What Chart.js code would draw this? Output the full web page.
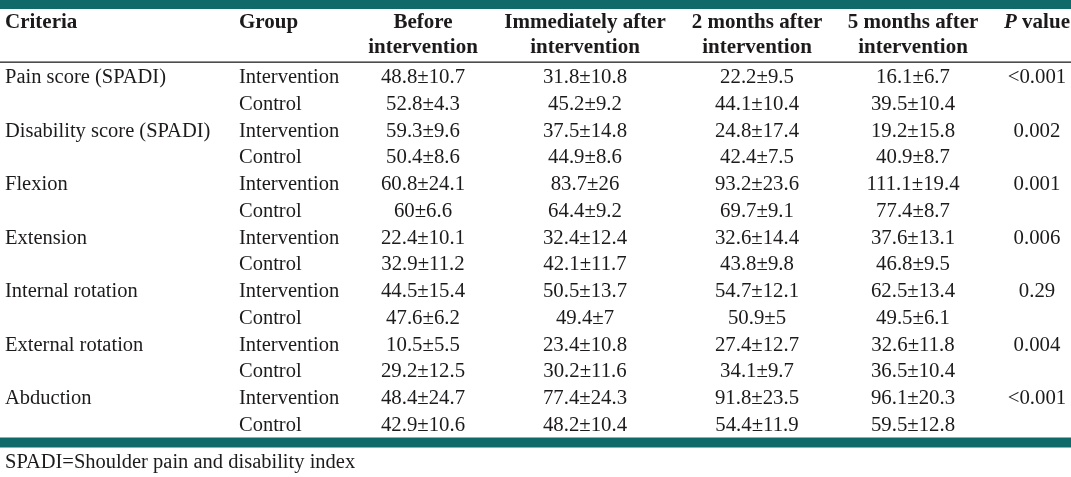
<!DOCTYPE html>
<html><head><meta charset="utf-8">
<script src="https://cdn.jsdelivr.net/npm/chart.js@4.4.1/dist/chart.umd.min.js"></script>
<style>html,body{margin:0;padding:0;background:#fff;overflow:hidden}canvas{display:block}</style>
</head><body>
<canvas id="c" width="1071" height="477"></canvas>
<script>
// ---------- DATA ----------
const criteria = ["Pain score (SPADI)","Disability score (SPADI)","Flexion","Extension","Internal rotation","External rotation","Abduction"];
const groups = ["Intervention","Control"];
const beforeIntervention = ["48.8±10.7","52.8±4.3","59.3±9.6","50.4±8.6","60.8±24.1","60±6.6","22.4±10.1","32.9±11.2","44.5±15.4","47.6±6.2","10.5±5.5","29.2±12.5","48.4±24.7","42.9±10.6"];
const immediatelyAfter = ["31.8±10.8","45.2±9.2","37.5±14.8","44.9±8.6","83.7±26","64.4±9.2","32.4±12.4","42.1±11.7","50.5±13.7","49.4±7","23.4±10.8","30.2±11.6","77.4±24.3","48.2±10.4"];
const twoMonthsAfter = ["22.2±9.5","44.1±10.4","24.8±17.4","42.4±7.5","93.2±23.6","69.7±9.1","32.6±14.4","43.8±9.8","54.7±12.1","50.9±5","27.4±12.7","34.1±9.7","91.8±23.5","54.4±11.9"];
const fiveMonthsAfter = ["16.1±6.7","39.5±10.4","19.2±15.8","40.9±8.7","111.1±19.4","77.4±8.7","37.6±13.1","46.8±9.5","62.5±13.4","49.5±6.1","32.6±11.8","36.5±10.4","96.1±20.3","59.5±12.8"];
const pValues = ["<0.001","0.002","0.001","0.006","0.29","0.004","<0.001"];
const headers = [["Criteria"],["Group"],["Before","intervention"],["Immediately after","intervention"],["2 months after","intervention"],["5 months after","intervention"],["P value"]];
const footnote = "SPADI=Shoulder pain and disability index";

// ---------- LAYOUT / STYLE ----------
const W = 1071, H = 477;
const COL_X = [5, 239, 423, 585, 757, 913, 1037];
const COL_ALIGN = ["left","left","center","center","center","center","center"];
const ROW0 = 76.3, ROW_STEP = 26.75;          // pixel of row 0 centre, row pitch
const Y_MIN = -ROW0 / ROW_STEP, Y_MAX = Y_MIN + H / ROW_STEP;
const TEAL = "#0f6a69", INK = "#1c1a1a";
const FAMILY = "'Liberation Serif','Times New Roman',serif";
const F_TEXT = "20.5px " + FAMILY, F_NUM = "20.8px " + FAMILY, F_HEAD = "bold 21px " + FAMILY;

const nRows = criteria.length * groups.length;
function pts(col, texts, every) {
  const out = [];
  texts.forEach((t, i) => out.push({x: COL_X[col], y: i * every, t: t}));
  return out;
}
const groupCol = [];
for (let i = 0; i < nRows; i++) groupCol.push(groups[i % groups.length]);

const datasets = [
  {label: "Criteria", data: pts(0, criteria, 2), font: F_TEXT},
  {label: "Group", data: pts(1, groupCol, 1), font: F_TEXT},
  {label: "Before", data: pts(2, beforeIntervention, 1), font: F_NUM},
  {label: "Immediately", data: pts(3, immediatelyAfter, 1), font: F_NUM},
  {label: "2 months", data: pts(4, twoMonthsAfter, 1), font: F_NUM},
  {label: "5 months", data: pts(5, fiveMonthsAfter, 1), font: F_NUM},
  {label: "P", data: pts(6, pValues, 2), font: F_NUM}
].map((d, i) => Object.assign(d, {align: COL_ALIGN[i], pointRadius: 0, pointHoverRadius: 0, showLine: false}));

const tablePlugin = {
  id: "tablePlugin",
  beforeDatasetsDraw(chart) {
    const ctx = chart.ctx, ys = chart.scales.y, ca = chart.chartArea;
    const py = v => ys.getPixelForValue(v);
    const rowPx = px => Y_MIN + (px) / ROW_STEP; // helper converting layout px to row units
    ctx.save();
    // top bar
    ctx.fillStyle = TEAL;
    ctx.fillRect(ca.left, py(rowPx(0)), ca.right - ca.left, py(rowPx(9)) - py(rowPx(0)));
    // bottom bar
    ctx.fillRect(ca.left, py(rowPx(437.5)), ca.right - ca.left, py(rowPx(447.5)) - py(rowPx(437.5)));
    // header rule
    ctx.fillStyle = "#222";
    ctx.fillRect(ca.left, py(rowPx(61.5)), ca.right - ca.left, 1.3);
    // headers
    ctx.fillStyle = INK;
    ctx.textBaseline = "alphabetic";
    headers.forEach((lines, c) => {
      ctx.textAlign = COL_ALIGN[c];
      lines.forEach((line, k) => {
        const y = py(rowPx(k === 0 ? 27.5 : 53));
        if (line === "P value") {
          ctx.font = "italic " + F_HEAD;
          const wP = ctx.measureText("P").width;
          ctx.font = F_HEAD;
          const wRest = ctx.measureText(" value").width;
          const x0 = COL_X[c] - (wP + wRest) / 2;
          ctx.textAlign = "left";
          ctx.font = "italic " + F_HEAD;
          ctx.fillText("P", x0, y);
          ctx.font = F_HEAD;
          ctx.fillText(" value", x0 + wP, y);
        } else {
          ctx.font = F_HEAD;
          ctx.fillText(line, COL_X[c], y);
        }
      });
    });
    // footnote
    ctx.font = F_TEXT;
    ctx.textAlign = "left";
    ctx.fillText(footnote, COL_X[0], py(rowPx(467.5)));
    ctx.restore();
  },
  afterDatasetsDraw(chart) {
    const ctx = chart.ctx;
    ctx.save();
    ctx.fillStyle = INK;
    ctx.textBaseline = "alphabetic";
    chart.data.datasets.forEach((ds, i) => {
      const meta = chart.getDatasetMeta(i);
      ctx.font = ds.font;
      ctx.textAlign = ds.align;
      meta.data.forEach((el, j) => {
        ctx.fillText(ds.data[j].t, el.x, el.y + 6.8);
      });
    });
    ctx.restore();
  }
};

new Chart(document.getElementById("c"), {
  type: "scatter",
  data: {datasets},
  options: {
    responsive: false,
    animation: false,
    events: [],
    layout: {padding: 0},
    plugins: {legend: {display: false}, tooltip: {enabled: false}},
    scales: {
      x: {type: "linear", min: 0, max: W, display: false},
      y: {type: "linear", min: Y_MIN, max: Y_MAX, reverse: true, display: false}
    }
  },
  plugins: [tablePlugin]
});
</script>
</body></html>
